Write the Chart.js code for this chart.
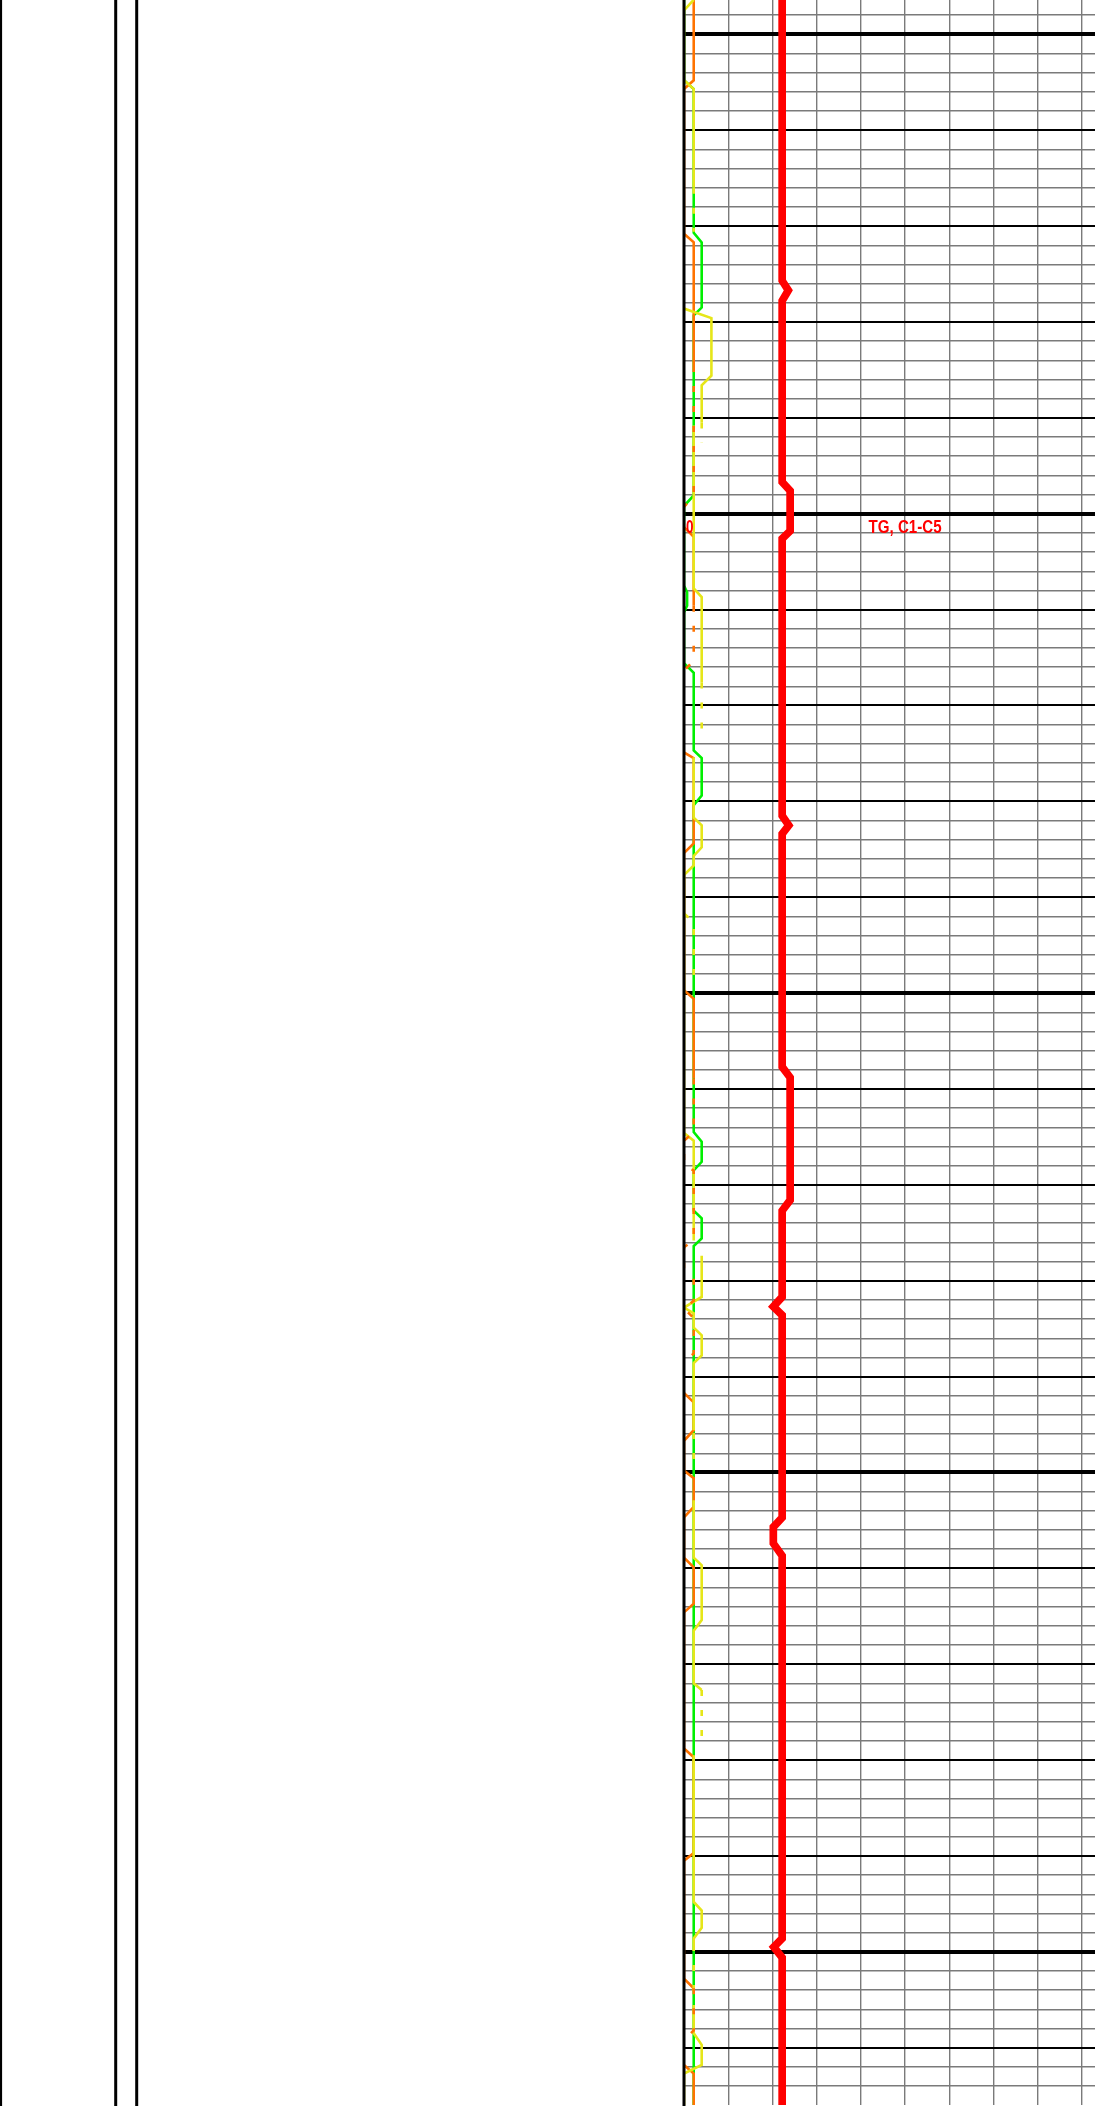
<!DOCTYPE html>
<html>
<head>
<meta charset="utf-8">
<script src="https://cdn.jsdelivr.net/npm/chart.js@4.4.1/dist/chart.umd.min.js"></script>
<style>
html, body { margin: 0; padding: 0; overflow: hidden; background: #ffffff; width: 1095px; height: 2112px; }
#wrap { position: absolute; left: 0; top: 0; width: 1140px; height: 2112px; }
canvas { display: block; }
</style>
</head>
<body>
<div id="wrap"><canvas id="c" width="1140" height="2112"></canvas></div>
<script>
// ---- Data (depth in m, gas values on a 0-100 track scale) ----
const tgDepth = [996.4, 1025.7, 1026.7, 1027.8, 1046.7, 1047.6, 1051.8, 1052.6, 1081.5, 1082.5, 1083.4, 1107.7, 1108.8, 1121.6, 1122.7, 1131.7, 1132.7, 1133.6, 1154.7, 1155.7, 1157.4, 1158.7, 1198.6, 1199.5, 1200.6, 1216.0];
const tgValue = [22.2, 22.2, 23.6, 22.2, 22.2, 24, 24, 22.2, 22.2, 23.7, 22.2, 22.2, 24, 24, 22.2, 22.2, 20.2, 22.2, 22.2, 20.2, 20.2, 22.2, 22.2, 20.3, 22.2, 22.2];

const greenDepth = [996.4, 1004.8, 1005.7, 1020.7, 1021.7, 1028.5, 1029.3, 1048.1, 1049.2, 1057.5, 1058.2, 1059.6, 1060.3, 1065.6, 1066.6, 1074.7, 1075.5, 1079.4, 1080.4, 1114.5, 1115.5, 1117.6, 1118.5, 1122.7, 1123.5, 1125.6, 1126.4, 1216.0];
const greenValue = [0, 0, 2.2, 2.2, 4, 4, 2.2, 2.2, 0, 0, 0.7, 0.7, 0, 0, 2.2, 2.2, 4, 4, 2.2, 2.2, 4, 4, 2.2, 2.2, 4, 4, 2.2, 2.2];

const yellowDepth = [996.4, 997.5, 1004.8, 1005.7, 1016.0, 1017.0, 1028.6, 1029.6, 1035.6, 1036.6, 1040.5, 1040.6, 1040.8, 1057.8, 1058.7, 1067.6, 1068.0, 1075.4, 1081.7, 1082.5, 1084.8, 1085.7, 1086.7, 1087.7, 1114.6, 1115.4, 1125.8, 1126.0, 1127.4, 1131.7, 1132.8, 1133.4, 1134.9, 1135.7, 1137.8, 1138.6, 1145.6, 1145.7, 1152.9, 1158.9, 1159.7, 1165.4, 1166.5, 1172.0, 1172.7, 1172.8, 1179.5, 1194.8, 1195.7, 1197.5, 1198.6, 1199.3, 1199.4, 1206.1, 1208.5, 1209.7, 1211.8, 1212.7, 1216.0];
const yellowValue = [2.2, 0, 0, 2.2, 2.2, null, 0, 6.2, 6.2, 4, 4, null, 2.2, 2.2, 4, 4, null, 2.2, 2.2, 4, 4, 2.2, 2.2, 0, 0, 2.2, 2.2, null, 4, 4, 0, 2.2, 2.2, 4, 4, 2.2, 2.2, null, 2.2, 2.2, 4, 4, 2.2, 2.2, 4, null, 2.2, 2.2, 4, 4, 2.2, 2.2, null, 2.2, 2.2, 4, 4, 0, 0];

const yellowDashDepth = [1016.0, 1020.6, 1020.7, 1040.5, 1042.6, 1042.7, 1067.6, 1073.7, 1073.8, 1091.7, 1092.6, 1099.4, 1099.5, 1145.9, 1149.6, 1149.7, 1172.7, 1178.3, 1178.4, 1199.3, 1206.1];
const yellowDashValue = [2.2, 2.2, null, 4, 4, null, 4, 4, null, 0, 2.2, 2.2, null, 2.2, 2.2, null, 4, 4, null, 2.2, 2.2];

const orangeDepth = [996.4, 1004.8, 1005.7, 1020.8, 1021.7, 1034.6, 1034.7, 1051.4, 1052.4, 1059.6, 1059.7, 1074.9, 1075.5, 1084.4, 1085.4, 1099.7, 1100.6, 1108.9, 1109.0, 1141.7, 1142.7, 1145.6, 1146.7, 1149.8, 1150.6, 1153.6, 1154.7, 1158.9, 1159.9, 1163.7, 1164.6, 1178.8, 1179.7, 1189.7, 1190.5, 1202.8, 1203.8, 1203.9, 1211.8, 1212.7, 1216.0];
const orangeValue = [2.2, 2.2, 0, 0, 2.2, 2.2, null, 0, 2.2, 2.2, null, 0, 2.2, 2.2, 0, 0, 2.2, 2.2, null, 0, 2.2, 2.2, 0, 0, 2.2, 2.2, 0, 0, 2.2, 2.2, 0, 0, 2.2, 2.2, 0, 0, 2.2, null, 0, 2.2, 2.2];

const orangeDashDepth = [1034.6, 1048.1, 1049.3, 1049.4, 1059.6, 1065.3, 1066.4, 1066.5, 1108.9, 1114.5, 1115.4, 1118.0, 1118.5, 1125.8, 1126.5, 1128.7, 1129.7, 1132.1, 1132.9, 1133.9, 1137.6, 1138.5, 1138.6, 1203.8, 1208.2, 1209.2];
const orangeDashValue = [2.2, 2.2, 0, null, 2.2, 2.2, 0, null, 2.2, 2.2, 0, 0, 2.2, 2.2, 0, 0, 2.2, 2.2, 0, 2.2, 2.2, 0, null, 2.2, 2.2, 0];

const scaleLeftLabel = '0';
const trackLabel = 'TG, C1-C5';
const labelDepth = 1052.0;
const trackMin = 0, trackMax = 100, trackStep = 10;
const depthTop = 996.42, depthBottom = 1215.98, depthStep = 2;

// ---- Helpers ----
const pts = (d, v) => d.map((y, i) => ({ x: v[i], y: y }));

const overlay = {
  id: 'overlay',
  afterDatasetsDraw(chart) {
    const { ctx, chartArea: a, scales } = chart;
    ctx.save();
    ctx.strokeStyle = '#000000';
    ctx.lineWidth = 3;
    [0.6, 115.7, 136.7, a.left].forEach(px => {
      ctx.beginPath();
      ctx.moveTo(px, 0);
      ctx.lineTo(px, a.bottom + 1);
      ctx.stroke();
    });
    ctx.fillStyle = '#FF0000';
    ctx.font = 'bold 18px "Liberation Sans", Arial, sans-serif';
    ctx.textBaseline = 'alphabetic';
    const by = scales.y.getPixelForValue(labelDepth);
    ctx.textAlign = 'left';
    ctx.fillText(scaleLeftLabel, scales.x.getPixelForValue(trackMin) + 2, by, 7.5);
    ctx.textAlign = 'center';
    ctx.fillText(trackLabel, scales.x.getPixelForValue((trackMin + trackMax) / 2), by, 73);
    ctx.restore();
  }
};

const isMult = (v, m) => Math.abs(v / m - Math.round(v / m)) < 1e-6;

new Chart(document.getElementById('c').getContext('2d'), {
  type: 'scatter',
  data: {
    datasets: [
      { label: 'TG', data: pts(tgDepth, tgValue), borderColor: '#FF0000', borderWidth: 7.7, order: 0 },
      { label: 'C5', data: pts(orangeDashDepth, orangeDashValue), borderColor: '#FF7300', borderWidth: 2.6, borderDash: [6, 14], order: 1 },
      { label: 'C4', data: pts(yellowDashDepth, yellowDashValue), borderColor: '#E6E619', borderWidth: 2.6, borderDash: [6, 14], order: 2 },
      { label: 'C2', data: pts(yellowDepth, yellowValue), borderColor: '#E6E619', borderWidth: 2.6, order: 3 },
      { label: 'C3', data: pts(orangeDepth, orangeValue), borderColor: '#FF7300', borderWidth: 2.6, order: 4 },
      { label: 'C1', data: pts(greenDepth, greenValue), borderColor: '#00F000', borderWidth: 2.6, order: 5 }
    ]
  },
  options: {
    responsive: false,
    animation: false,
    devicePixelRatio: 1,
    layout: { padding: { left: 684, right: 13.8, top: 0, bottom: 7 } },
    plugins: { legend: { display: false }, tooltip: { enabled: false } },
    elements: {
      point: { radius: 0, hoverRadius: 0 },
      line: { tension: 0, fill: false, borderJoinStyle: 'miter', borderCapStyle: 'butt' }
    },
    datasets: { scatter: { showLine: true, spanGaps: false } },
    scales: {
      x: {
        type: 'linear', position: 'top', min: trackMin, max: trackMax,
        ticks: { display: false, stepSize: trackStep, autoSkip: false },
        afterBuildTicks: (s) => { s.ticks = s.ticks.filter(t => isMult(t.value, trackStep)); },
        grid: { color: '#7a7a7a', lineWidth: 1.4, drawTicks: false, z: -1 },
        border: { display: false }
      },
      y: {
        type: 'linear', reverse: true, min: depthTop, max: depthBottom,
        ticks: { display: false, stepSize: depthStep, autoSkip: false },
        afterBuildTicks: (s) => { s.ticks = s.ticks.filter(t => isMult(t.value, depthStep)); },
        grid: {
          drawTicks: false,
          color: (c) => (c.tick && isMult(c.tick.value, 10)) ? '#000000' : '#7a7a7a',
          lineWidth: (c) => !c.tick ? 1 : isMult(c.tick.value, 50) ? 4 : isMult(c.tick.value, 10) ? 2 : 1.4
        },
        border: { display: false }
      }
    }
  },
  plugins: [overlay]
});
</script>
</body>
</html>
